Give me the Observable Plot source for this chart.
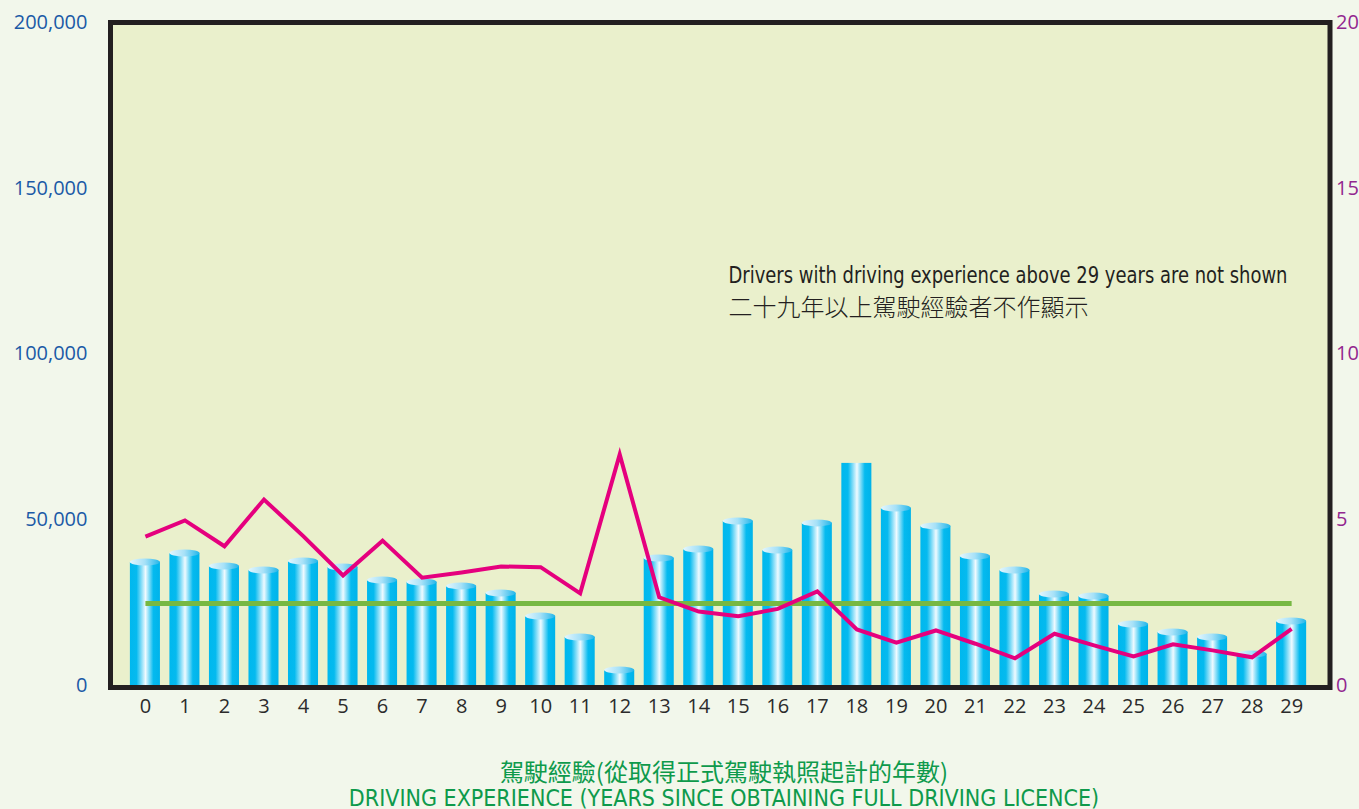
<!DOCTYPE html>
<html>
<head>
<meta charset="utf-8">
<script src="https://cdn.jsdelivr.net/npm/d3@7"></script>
<script src="https://cdn.jsdelivr.net/npm/@observablehq/plot@0.6"></script>
<style>
  body { margin: 0; background: #f2f7eb; }
  #chart svg { display: block; }
  #caption { width: 1359px; box-sizing: border-box; padding-left: 89px; text-align: center; color: #0e9a4b; }
  #cap-zh { margin-top: 12px; height: 28px; line-height: 28px; font-size: 24px; font-family: "Noto Sans CJK TC", sans-serif; font-weight: 400; }
  #cap-en { height: 28px; line-height: 27px; font-size: 23px; font-family: "DejaVu Sans", sans-serif; font-stretch: condensed; }
</style>
</head>
<body>
<div id="chart"></div>
<div id="caption">
  <div id="cap-zh">駕駛經驗(從取得正式駕駛執照起計的年數)</div>
  <div id="cap-en">DRIVING EXPERIENCE (YEARS SINCE OBTAINING FULL DRIVING LICENCE)</div>
</div>
<script>
// Categories: driving experience (years)
const years = [0, 1, 2, 3, 4, 5, 6, 7, 8, 9, 10, 11, 12, 13, 14, 15, 16, 17, 18, 19, 20, 21, 22, 23, 24, 25, 26, 27, 28, 29];
// Number of drivers (left axis)
const drivers = [37100, 39800, 35900, 34700, 37400, 35600, 31700, 31100, 29900, 27750, 20800, 14500, 4500, 38300, 41000, 49500, 40700, 48900, 67000, 53400, 48000, 38900, 34700, 27450, 26850, 18400, 16000, 14500, 9350, 19300];
// Rate (right axis)
const rate = [4.49, 4.98, 4.20, 5.61, 4.50, 3.32, 4.37, 3.25, 3.41, 3.59, 3.57, 2.78, 6.97, 2.66, 2.23, 2.09, 2.31, 2.84, 1.69, 1.29, 1.66, 1.26, 0.82, 1.56, 1.21, 0.88, 1.24, 1.06, 0.85, 1.71];
// Overall average rate (right axis)
const avgRate = 2.47;
// Bars drawn without a rounded top in the original
const flatTop = [18];
// Tick labels
const leftTicks = [0, 50000, 100000, 150000, 200000];
const rightTicks = [0, 5, 10, 15, 20];
const leftMax = 200000, rightMax = 20;
const annotEn = "Drivers with driving experience above 29 years are not shown";
const annotZh = "二十九年以上駕駛經驗者不作顯示";

const K = leftMax / rightMax; // maps right-axis values onto the shared y scale
const rows = years.map((y, i) => ({year: y, drivers: drivers[i], rate: rate[i]}));

const plot = Plot.plot({
  width: 1359,
  height: 745,
  marginLeft: 110,
  marginRight: 29.5,
  marginTop: 22,
  marginBottom: 58,
  style: {background: "transparent", fontFamily: "'Open Sans', sans-serif", overflow: "visible"},
  x: {type: "band", domain: years, paddingInner: 0.24, paddingOuter: 0.547, align: 0.46, round: false, label: null},
  y: {domain: [0, leftMax], insetBottom: 2, label: null},
  marks: [
    Plot.frame({fill: "#eaf0cc", stroke: "none"}),
    Plot.barY(rows, {x: "year", y: "drivers", fill: "url(#cyl)"}),
    Plot.barY(rows.filter(d => !flatTop.includes(d.year)), {
      x: "year", y1: "drivers", y2: "drivers", insetTop: -3.5, insetBottom: -3.5,
      rx: 20, ry: 3.5, fill: "url(#cylcap)"
    }),
    Plot.line([years[0], years[years.length - 1]], {
      x: d => d, y: () => avgRate * K, stroke: "#77b843", strokeWidth: 5, strokeLinecap: "butt"
    }),
    Plot.line(rows, {
      x: "year", y: d => d.rate * K, stroke: "#e5007e", strokeWidth: 4,
      strokeLinejoin: "miter", strokeMiterlimit: 10, strokeLinecap: "butt"
    }),
    Plot.frame({stroke: "#231f20", strokeWidth: 5}),
    Plot.axisY({anchor: "left", ticks: leftTicks, tickFormat: d3.format(","), tickSize: 0, tickPadding: 23, fontSize: 20, color: "#1b5aa6", label: null}),
    Plot.axisY({anchor: "right", ticks: rightTicks.map(v => v * K), tickFormat: d => d / K, tickSize: 0, tickPadding: 6, fontSize: 20, color: "#92278f", label: null}),
    Plot.axisX({tickSize: 0, tickPadding: 11, fontSize: 20, color: "#2b2b2b", label: null}),
    Plot.text([annotEn], {frameAnchor: "top-left", dx: 618, dy: 244, text: d => d, textAnchor: "start", lineAnchor: "top",
      fontSize: 23, fill: "#231f20", fontFamily: "'DejaVu Sans', sans-serif"}),
    Plot.text([annotZh], {frameAnchor: "top-left", dx: 618, dy: 286, text: d => d, textAnchor: "start", lineAnchor: "middle",
      fontSize: 24, fill: "#231f20", fontWeight: 300, fontFamily: "'Noto Sans CJK TC', sans-serif"})
  ]
});

d3.select(plot).insert("defs", ":first-child").html(`
  <linearGradient id="cyl" x1="0" x2="1" y1="0" y2="0">
    <stop offset="0" stop-color="#00b8ee"/>
    <stop offset="0.22" stop-color="#05baef"/>
    <stop offset="0.52" stop-color="#effaff"/>
    <stop offset="0.78" stop-color="#05baef"/>
    <stop offset="1" stop-color="#00b3ea"/>
  </linearGradient>
  <linearGradient id="cylcap" x1="0" x2="1" y1="0" y2="0">
    <stop offset="0" stop-color="#e4f6fd"/>
    <stop offset="0.5" stop-color="#a6e1f8"/>
    <stop offset="1" stop-color="#22b6ea"/>
  </linearGradient>
`);

// condensed setting for the English annotation, fitted to the original's width
d3.select(plot).selectAll("text")
  .filter(function() { return this.textContent === annotEn; })
  .style("font-stretch", "condensed")
  .attr("textLength", 559)
  .attr("lengthAdjust", "spacingAndGlyphs");

document.getElementById("chart").append(plot);
</script>
</body>
</html>
